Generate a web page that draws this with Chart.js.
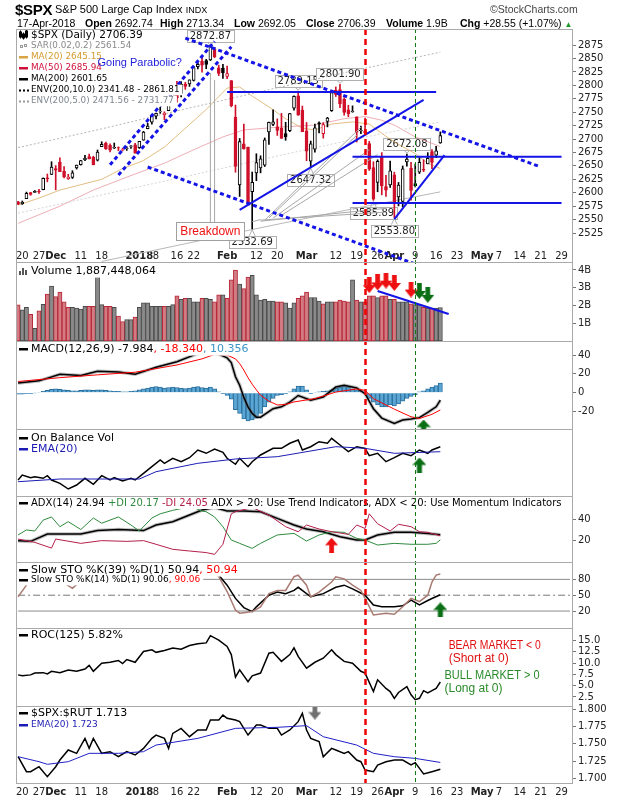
<!DOCTYPE html>
<html>
<head>
<meta charset="utf-8">
<title>$SPX S&amp;P 500 Large Cap Index</title>
<script src="https://cdn.jsdelivr.net/npm/chart.js@4.4.1/dist/chart.umd.min.js"></script>
<style>
  html, body { margin: 0; padding: 0; background: #fff; }
  #page { position: relative; width: 620px; height: 800px; overflow: hidden; font-family: 'Liberation Sans', Arial, sans-serif; color: #000; }
  #page canvas { position: absolute; left: 0; top: 0; }
  .t { position: absolute; white-space: nowrap; line-height: 1; }
  .b { font-weight: bold; }
</style>
</head>
<body>
<div id="page">
  <canvas id="chart" width="620" height="800"></canvas>
  <div class="t b" style="left:15px;top:2px;font-size:15px;letter-spacing:-0.3px">$SPX</div>
  <div class="t" style="left:55px;top:4px;font-size:11px">S&amp;P 500 Large Cap Index <span style="font-size:9px">INDX</span></div>
  <div class="t" style="left:490px;top:4px;font-size:10.5px;color:#444">&copy;StockCharts.com</div>
  <div class="t" style="left:17px;top:18px;font-size:10.5px">17-Apr-2018</div>
  <div class="t" style="left:85px;top:18px;font-size:10.5px"><b>Open</b> 2692.74</div>
  <div class="t" style="left:160px;top:18px;font-size:10.5px"><b>High</b> 2713.34</div>
  <div class="t" style="left:234px;top:18px;font-size:10.5px"><b>Low</b> 2692.05</div>
  <div class="t" style="left:306px;top:18px;font-size:10.5px"><b>Close</b> 2706.39</div>
  <div class="t" style="left:386px;top:18px;font-size:10.5px"><b>Volume</b> 1.9B</div>
  <div class="t" style="left:460px;top:18px;font-size:10.5px"><b>Chg</b> +28.55 (+1.07%) <span style="color:#1f9a2a;font-size:8px">&#9650;</span></div>
</div>
<script>
// ---- trading days (plus future weekdays shown on the axis) ----
const dates = `2017-11-17 2017-11-20 2017-11-21 2017-11-22 2017-11-24 2017-11-27 2017-11-28 2017-11-29 2017-11-30
2017-12-01 2017-12-04 2017-12-05 2017-12-06 2017-12-07 2017-12-08 2017-12-11 2017-12-12 2017-12-13 2017-12-14 2017-12-15
2017-12-18 2017-12-19 2017-12-20 2017-12-21 2017-12-22 2017-12-26 2017-12-27 2017-12-28 2017-12-29
2018-01-02 2018-01-03 2018-01-04 2018-01-05 2018-01-08 2018-01-09 2018-01-10 2018-01-11 2018-01-12
2018-01-16 2018-01-17 2018-01-18 2018-01-19 2018-01-22 2018-01-23 2018-01-24 2018-01-25 2018-01-26
2018-01-29 2018-01-30 2018-01-31 2018-02-01 2018-02-02 2018-02-05 2018-02-06 2018-02-07 2018-02-08 2018-02-09
2018-02-12 2018-02-13 2018-02-14 2018-02-15 2018-02-16 2018-02-20 2018-02-21 2018-02-22 2018-02-23
2018-02-26 2018-02-27 2018-02-28 2018-03-01 2018-03-02 2018-03-05 2018-03-06 2018-03-07 2018-03-08 2018-03-09
2018-03-12 2018-03-13 2018-03-14 2018-03-15 2018-03-16 2018-03-19 2018-03-20 2018-03-21 2018-03-22 2018-03-23
2018-03-26 2018-03-27 2018-03-28 2018-03-29 2018-04-02 2018-04-03 2018-04-04 2018-04-05 2018-04-06
2018-04-09 2018-04-10 2018-04-11 2018-04-12 2018-04-13 2018-04-16 2018-04-17
2018-04-18 2018-04-19 2018-04-20 2018-04-23 2018-04-24 2018-04-25 2018-04-26 2018-04-27 2018-04-30
2018-05-01 2018-05-02 2018-05-03 2018-05-04 2018-05-07 2018-05-08 2018-05-09 2018-05-10 2018-05-11
2018-05-14 2018-05-15 2018-05-16 2018-05-17 2018-05-18 2018-05-21 2018-05-22 2018-05-23 2018-05-24 2018-05-25
2018-05-29 2018-05-30 2018-05-31`.trim().split(/\s+/);

const tickLabels = {
  '2017-11-20': '20', '2017-11-27': '27', '2017-12-01': 'Dec', '2017-12-11': '11', '2017-12-18': '18',
  '2018-01-02': '2018', '2018-01-08': '8', '2018-01-16': '16', '2018-01-22': '22', '2018-02-01': 'Feb',
  '2018-02-12': '12', '2018-02-20': '20', '2018-03-01': 'Mar', '2018-03-12': '12', '2018-03-19': '19',
  '2018-03-26': '26', '2018-04-02': 'Apr', '2018-04-09': '9', '2018-04-16': '16', '2018-04-23': '23',
  '2018-05-01': 'May', '2018-05-07': '7', '2018-05-14': '14', '2018-05-21': '21', '2018-05-29': '29'
};
const boldLabels = ['Dec', '2018', 'Feb', 'Mar', 'Apr', 'May'];

// ---- daily price bars ----
const prevClose = 2585.64;
const opens = [2582.94,2579.49,2589.17,2600.31,2600.42,2602.66,2605.94,2627.82,2633.93,
  2645.10,2657.19,2639.78,2626.24,2628.38,2646.21,2652.19,2661.73,2667.59,2665.87,2660.63,
  2685.92,2692.71,2688.18,2683.02,2684.22,2679.09,2682.10,2686.10,2689.15,
  2683.73,2697.85,2719.31,2731.33,2742.67,2751.15,2745.55,2752.97,2770.18,
  2798.96,2784.99,2802.40,2802.60,2809.16,2835.05,2845.42,2846.24,2847.48,
  2867.23,2832.74,2832.41,2816.45,2808.92,2741.06,2614.78,2690.95,2685.01,2601.78,
  2636.75,2646.27,2651.21,2713.46,2727.14,2722.99,2720.53,2710.42,2715.80,
  2757.37,2780.45,2753.78,2715.22,2658.89,2681.06,2730.18,2710.18,2732.75,2752.91,
  2790.54,2792.31,2774.06,2754.27,2750.57,2741.38,2715.05,2714.99,2691.36,2646.71,
  2619.35,2667.57,2611.30,2614.41,2633.45,2592.17,2584.04,2657.36,2645.82,
  2617.18,2638.41,2643.48,2653.83,2676.90,2670.10,2692.74];
const highs = [2583.96,2584.64,2601.19,2600.94,2604.21,2606.41,2627.69,2634.89,2657.74,
  2650.62,2665.19,2648.72,2634.41,2640.99,2651.65,2660.33,2669.72,2671.88,2668.09,2679.63,
  2694.97,2694.44,2691.01,2692.64,2685.35,2682.74,2685.64,2687.66,2692.12,
  2695.89,2714.37,2729.29,2743.45,2748.51,2759.14,2750.80,2767.56,2787.85,
  2807.54,2807.04,2805.83,2810.33,2833.03,2842.24,2852.97,2848.56,2872.87,
  2870.62,2837.75,2839.26,2835.96,2808.92,2763.39,2701.04,2727.67,2685.27,2638.67,
  2672.61,2668.84,2702.10,2731.51,2754.42,2737.60,2747.75,2731.26,2747.76,
  2780.64,2789.15,2761.52,2730.89,2696.25,2728.09,2732.08,2730.60,2740.45,2786.57,
  2796.98,2801.90,2777.11,2763.03,2761.85,2741.38,2724.22,2739.14,2695.68,2657.67,
  2661.36,2674.78,2632.65,2659.07,2638.30,2619.14,2649.86,2672.08,2656.88,
  2653.55,2665.45,2661.43,2674.72,2680.26,2686.49,2713.34];
const lows = [2577.62,2578.24,2589.17,2595.23,2600.42,2598.87,2605.44,2620.32,2633.93,
  2605.52,2639.03,2627.73,2624.75,2626.53,2644.10,2651.47,2659.78,2662.85,2652.01,2659.14,
  2685.92,2680.74,2676.11,2682.40,2678.13,2677.96,2678.91,2682.69,2673.61,
  2682.36,2697.77,2719.07,2727.92,2737.60,2747.86,2736.06,2752.78,2769.64,
  2768.64,2778.38,2792.56,2798.08,2808.12,2830.59,2824.81,2830.94,2846.18,
  2851.48,2818.27,2813.04,2812.70,2759.97,2638.17,2593.07,2681.33,2580.56,2532.69,
  2622.45,2637.08,2648.87,2689.82,2725.11,2706.76,2701.29,2697.77,2713.74,
  2753.78,2744.22,2713.54,2659.65,2647.32,2675.75,2711.26,2701.74,2722.65,2751.54,
  2779.26,2758.68,2744.38,2741.47,2749.97,2694.59,2710.05,2709.79,2641.59,2585.89,
  2601.81,2596.12,2593.06,2609.72,2553.80,2575.49,2573.61,2649.58,2586.27,
  2610.79,2635.78,2639.25,2653.83,2645.05,2665.16,2692.05];
const closes = [2578.85,2582.14,2599.03,2597.08,2602.42,2601.42,2627.04,2626.07,2647.58,
  2642.22,2639.44,2629.57,2629.27,2636.98,2651.50,2659.99,2664.11,2662.85,2652.01,2675.81,
  2690.16,2681.47,2679.25,2684.57,2683.34,2680.50,2682.62,2687.54,2673.61,
  2695.81,2713.06,2723.99,2743.15,2747.71,2751.29,2748.23,2767.56,2786.24,
  2776.42,2802.56,2798.03,2810.30,2832.97,2839.13,2837.54,2839.25,2872.87,
  2853.53,2822.43,2823.81,2821.98,2762.13,2648.94,2695.14,2681.66,2581.00,2619.55,
  2656.00,2662.94,2698.63,2731.20,2732.22,2716.26,2701.33,2703.96,2747.30,
  2779.60,2744.28,2713.83,2677.67,2691.25,2720.94,2728.12,2726.80,2738.97,2786.57,
  2783.02,2765.31,2749.48,2747.33,2752.01,2712.92,2716.94,2711.93,2643.69,2588.26,
  2658.55,2612.62,2605.00,2640.87,2581.88,2614.45,2644.69,2662.84,2604.47,
  2613.16,2656.87,2642.19,2663.99,2656.30,2677.84,2706.39];
// volume, billions of shares
const volumes = [2.04,1.75,1.9,1.5,0.72,1.7,2.07,2.64,3.1,
  2.5,2.75,2.2,1.9,1.9,1.85,1.8,1.95,1.95,1.95,3.68,
  2.05,1.95,1.95,1.9,1.4,1.1,1.2,1.2,1.35,
  1.9,2.15,2.15,1.95,1.95,1.95,1.95,1.95,2.05,
  2.55,2.35,2.4,2.4,2.2,2.2,2.4,2.4,2.35,
  2.2,2.6,2.6,2.4,3.45,4.0,3.2,2.95,3.6,3.7,
  2.6,2.3,2.35,2.25,2.25,2.2,2.2,2.15,1.85,
  2.15,2.4,2.55,2.75,2.45,2.45,2.25,2.1,2.2,2.2,
  2.2,2.3,2.25,2.2,3.45,2.3,2.2,2.2,2.55,2.55,
  2.45,2.55,2.55,2.35,2.35,2.2,2.2,2.2,2.1,
  2.05,2.05,1.9,1.85,1.85,1.85,1.887];
const macdHist = [-1.5,-1.5,-1,-1,-0.5,0.5,1.5,2.5,3.5,4,3.5,3,2.5,2,2,2.5,3,3,2.5,3,
  3,2.5,2,1.5,1.5,1,1,1.5,2,3,4,5,6,6.5,6,5,5.5,6,5.5,5,
  4.5,5,6,6.5,5.5,5,6,4,1,-1,-3,-7,-18,-22,-28,-30,-29,-27,-22,-15,
  -10,-6,-3,-2,-1,1,4,7,7,3,-1,0.5,1,1.5,2,3,5,6,7,6,
  4,3,2,-1,-6,-10,-13,-15,-15,-13,-14,-12,-9,-6,-4,-2,1,2,4,6,7.5,10.36];

// ---- overlays and indicators, [day index, value] ----
const ma20 = [[0,2577],[5,2590],[10,2605],[15,2615],[20,2625],[25,2645],[30,2660],[35,2685],[40,2720],
  [45,2755],[50,2795],[53,2797],[56,2780],[60,2760],[64,2738],[68,2720],[71,2717],[75,2728],[80,2732],
  [84,2728],[88,2705],[91,2690],[95,2673],[98,2655],[101,2645.15]];
const ma50 = [[0,2543],[10,2575],[18,2605],[27,2632],[35,2655],[42,2680],[49,2704],[54,2717],[62,2722],
  [71,2726],[78,2738],[83,2742],[87,2735],[90,2726],[95,2704],[101,2685.94]];
const ma200 = [[20,2472],[40,2505],[60,2538],[80,2570],[101,2601.65]];
const env10Upper = [[0,2684],[20,2719],[40,2756],[60,2792],[80,2827],[101,2861.81]];
const env5Upper = [[0,2562],[20,2596],[40,2630],[60,2665],[80,2699],[101,2731.77]];
const macdLine = [[0,10.2],[5,12.6],[10,19.6],[15,18.2],[19,22.8],[24,22.1],[28,19.6],[33,27],[38,33],
  [42,40],[45,44],[48,41],[50,37],[51,32],[52,17],[53,8],[54,-5],[55,-15],[56,-22],[57,-26],[58,-26],
  [59,-23],[61,-17],[63,-15],[65,-10],[67,-3],[70,-8],[73,-4.5],[76,6],[78,8],[81,5],[83,-1],[85,-17],
  [87,-27],[90,-32.6],[92,-29],[94,-28],[96,-26.5],[98,-21],[100,-15],[101,-7.98]];
const macdSignal = [[0,11.9],[10,16],[19,19],[28,21.8],[38,29.5],[44,36],[47,40.7],[50,40],[52,36],
  [53,31],[54,24],[55,16],[56,9],[57,3],[58,-2.7],[60,-9],[62,-13],[64,-12.5],[66,-9.8],[71,-6.3],
  [76,0.7],[81,4],[83,2.5],[85,-6.3],[88,-13],[90,-17.5],[94,-25.6],[96,-27.4],[99,-23],[101,-18.34]];
const obv = [[0,16],[1,21],[3,18.3],[4,19.3],[6,17.7],[7,20.3],[8,16],[10,12.7],[12,7],[14,11],[16,17.7],
  [18,11.7],[20,20.3],[22,16],[23,18.3],[25,15],[27,17.7],[28,16],[30,22.7],[32,29.3],[34,36],[35,32.7],
  [37,37.7],[39,34.3],[41,38.3],[43,46],[45,42.7],[47,47],[49,43.7],[50,37.7],[52,31.7],[53,37.7],
  [55,29.3],[56,34.3],[58,41],[61,47.7],[63,47.7],[65,52.7],[67,56],[68,46],[70,49.3],[72,54.3],
  [74,52.7],[75,57.7],[77,51],[79,44.3],[81,49.3],[83,47.7],[84,40.3],[86,42.7],[88,34.3],[90,38.3],
  [92,42.7],[94,40.3],[96,46],[98,42.7],[99,46],[101,49.3]];
const obvEma = [[0,14.3],[10,17],[29,17],[33,24.3],[43,32.7],[52,37],[62,39.3],[76,49.3],[83,47.7],
  [90,42.7],[101,44.3]];
const adx = [[0,19.4],[3,18.7],[7,25.7],[15,25.7],[19,29],[24,30],[30,29],[33,34.3],[37,37.5],[41,43.8],
  [44,48.6],[47,51],[50,47.6],[54,47.6],[58,47],[62,40.6],[66,34.3],[69,30.5],[73,27.9],[77,23.2],
  [81,20],[83,20],[86,24.8],[90,27.3],[94,27.3],[98,26.3],[101,24.94]];
const plusDI = [[0,24.8],[2,29.6],[4,28.6],[6,39],[8,42],[10,32.7],[12,37.5],[15,30],[18,41],[20,36],
  [24,42],[27,34.3],[29,28.6],[32,41],[34,45],[37,48.3],[39,50],[42,51],[44,47.6],[45,47],[47,42],
  [49,32.7],[51,20],[53,16.8],[56,12],[58,16.8],[62,24.8],[66,26.3],[69,19],[72,24.8],[75,27.9],
  [78,27.3],[81,21.6],[83,20],[86,15.2],[90,16.8],[94,15.9],[98,15.9],[100,16.8],[101,20.17]];
const minusDI = [[0,20.9],[4,17.7],[8,12.3],[9,20.9],[15,16.8],[20,19.4],[26,18.7],[30,19.4],[33,15.9],
  [37,11.1],[41,9.5],[45,8],[47,6.3],[49,15.9],[51,45],[52,47],[56,51],[60,43.8],[64,32.7],[67,27.9],
  [69,34.3],[72,30.5],[75,27.9],[79,25.4],[81,34.3],[83,31],[84,45],[86,35.5],[89,28.6],[91,35],
  [94,32.7],[96,27.9],[98,27.3],[101,24.05]];
const stoK39 = [[0,80],[5,85],[10,88],[15,90],[20,92],[25,90],[30,95],[35,96],[40,97],[45,98],[47,92],
  [48,88],[50,69],[52,44],[54,26.5],[56,19],[57,28],[60,50],[62,56],[64,53],[66,59],[67,65],[70,47],
  [73,53],[76,65],[78,69],[80,62],[83,50],[85,31.5],[87,28],[90,28],[92,30],[94,40.7],[96,31.5],
  [98,40],[99,43.8],[101,50.94]];
const stoK14 = [[0,47],[2,69],[4,82],[6,90],[8,88],[10,78],[12,68],[13,63],[14,70],[16,85],[19,88],
  [22,80],[26,82],[30,95],[35,92],[40,95],[44,90],[46,98],[48,85],[50,57],[52,22],[53,16],[54,17],
  [56,19],[58,28],[60,53],[62,59],[64,59],[66,85],[67,88],[69,69],[70,47],[72,56],[75,75],[76,85],
  [78,81],[80,69],[82,59],[83,44],[85,12.5],[88,16],[90,14],[92,28],[94,44],[96,38],[98,50],[99,75],
  [100,88],[101,90.06]];
const stoLevels = [80, 50, 20];
const roc = [[0,7.4],[1,7.2],[3,7.4],[4,7.8],[6,7.9],[7,7.6],[8,8.2],[10,7.9],[12,8.5],[14,8.2],[16,8.7],
  [17,9.5],[18,8.2],[20,10],[22,10.2],[24,10.6],[25,9.9],[26,10.8],[28,10.2],[30,12.6],[32,12.97],
  [33,12.4],[35,12.8],[37,13.35],[39,13.1],[41,13.9],[43,14.3],[45,14.5],[46,16.1],[48,15.1],[50,13.7],
  [51,11.9],[52,6.9],[53,8.5],[55,5.9],[56,7.2],[58,7.8],[60,12.2],[61,12.4],[63,10.4],[65,11.9],
  [66,13.4],[67,11.5],[69,8.9],[71,10.2],[73,11.1],[75,12.97],[76,11.9],[78,10.4],[80,10],[82,8.2],
  [83,7.8],[85,3.7],[86,6.3],[88,4.4],[89,3.7],[90,2.2],[91,3.5],[93,4.8],[94,3],[95,1.9],[96,2.2],
  [97,3.9],[98,3.4],[99,3.9],[100,4.4],[101,5.82]];
const spxRut = [[0,1.7313],[2,1.7096],[3,1.7096],[5,1.7168],[7,1.7024],[9,1.7168],[10,1.7265],
  [12,1.741],[14,1.7362],[16,1.7579],[17,1.7434],[18,1.7579],[20,1.7362],[22,1.7386],[24,1.7313],
  [26,1.7386],[28,1.7338],[30,1.7434],[32,1.7579],[33,1.7627],[35,1.7579],[36,1.7434],[37,1.7651],
  [39,1.7724],[41,1.7603],[43,1.77],[45,1.77],[46,1.7845],[48,1.7845],[49,1.7917],[50,1.7869],
  [52,1.7845],[53,1.7821],[55,1.7627],[57,1.7772],[58,1.7772],[60,1.7724],[62,1.7724],[63,1.7627],
  [65,1.77],[67,1.7821],[68,1.7942],[69,1.77],[70,1.7579],[72,1.7531],[73,1.7313],[75,1.7434],
  [76,1.741],[78,1.7362],[79,1.7386],[81,1.7265],[82,1.7241],[83,1.712],[85,1.7096],[86,1.7193],
  [88,1.7241],[90,1.7265],[92,1.7265],[94,1.7193],[95,1.7227],[97,1.7063],[99,1.7096],[101,1.713]];
const spxRutEma = [[0,1.7313],[5,1.7241],[7,1.7203],[12,1.7241],[17,1.7362],[24,1.7362],[30,1.7386],
  [33,1.7482],[43,1.7579],[52,1.7724],[62,1.7739],[69,1.7763],[73,1.7603],[81,1.7482],[85,1.7362],
  [90,1.7313],[95,1.7289],[101,1.723]];

// ---- drawn annotations: [from day, from value, to day, to value] ----
const dashedTrends = [[22,2652,47,2882],[24,2633,51,2872],[40,2888,125,2648],[31,2648,116,2408]];
const solidTrends = [[50,2787.5,100,2787.5],[80,2667,130,2667],[80,2581,130,2581],[53,2568,97,2773],[90,2551,102,2670]];
const volumeTrend = [[86,2.82,103,1.52]];
const calloutLines = [[46,2545,46,2823],[47,2545,47,2810],[59,2549,82,2722],[60,2553,81,2707],
  [61,2553,84,2680],[63,2558,86,2671],[58,2547,88,2571],[58,2549,88,2564],[56,2546,58,2550]];
const priceNotes = [['2018-01-26',2872.87,'high'],['2018-02-27',2789.15,'high'],['2018-03-13',2801.90,'high'],
  ['2018-04-05',2672.08,'high'],['2018-03-02',2647.32,'low'],['2018-03-23',2585.89,'low'],
  ['2018-04-02',2553.80,'low'],['2018-02-09',2532.69,'low']];
const markerDates = [['2018-03-21','red'],['2018-04-09','green']];
const volRedArrows = [[84,3.15],[86,3.3],[88,3.4],[90,3.27],[94,2.9]];
const volGreenArrows = [[96,2.82],[98,2.6]];
const macdUpArrows = [[97,-36.5]];
const obvUpArrows = [[96,31]];
const adxUpArrows = [[75,15]];
const stoUpArrows = [[101,22]];
const rutDownArrows = [[71,1.796]];

// ---- axis ticks ----
const priceTicks = [2525,2550,2575,2600,2625,2650,2675,2700,2725,2750,2775,2800,2825,2850,2875];
const volTicks = [1,2,3,4];
const macdTicks = [-20,0,20,40];
const adxTicks = [20,40];
const stoTicks = [20,50,80];
const rocTicks = [2.5,5,7.5,10,12.5,15];
const rutTicks = [1.7,1.725,1.75,1.775,1.8];

const RED = '#d0112b', BLUE = '#1414e6';
const FONT = '"DejaVu Sans", Verdana, sans-serif';

const panels = [
  { id: 'yPrice', weight: 233, min: 2471, max: 2905, ticks: priceTicks, fmt: v => String(v) },
  { id: 'yVol', weight: 79, min: 0, max: 4.45, ticks: volTicks, fmt: v => v + 'B' },
  { id: 'yMacd', weight: 88, min: -38.6, max: 55, ticks: macdTicks, fmt: v => String(v) },
  { id: 'yObv', weight: 67, min: 0, max: 67, ticks: [], fmt: () => '' },
  { id: 'yAdx', weight: 66, min: -1, max: 62, ticks: adxTicks, fmt: v => String(v) },
  { id: 'ySto', weight: 66, min: -12.1, max: 112.9, ticks: stoTicks, fmt: v => String(v) },
  { id: 'yRoc', weight: 78, min: 0.5, max: 17.8, ticks: rocTicks, fmt: v => v.toFixed(1) },
  { id: 'yRut', weight: 77, min: 1.6932, max: 1.8048, ticks: rutTicks, fmt: v => v.toFixed(3) }
];

const prevOf = i => (i === 0 ? prevClose : closes[i - 1]);
const upDay = closes.map((c, i) => c >= prevOf(i));
const candleColor = upDay.map(u => (u ? '#000' : RED));
const bodyFill = closes.map((c, i) => (c >= opens[i] ? '#fff' : candleColor[i]));

const pts = list => list.map(([i, v]) => ({ x: dates[i], y: v }));

function line(id, list, color, width, dash, order) {
  return { type: 'line', yAxisID: id, data: pts(list), borderColor: color, borderWidth: width,
    borderDash: dash || [], pointRadius: 0, tension: 0, fill: false, order: order === undefined ? 6 : order };
}
// black indicator line with the soft grey shadow StockCharts puts under it
function shaded(id, list) {
  return [line(id, list, 'rgba(110,110,110,0.45)', 3.5, [], 7), line(id, list, '#000', 1.5)];
}
function segments(id, list, color, width, dash, order) {
  return list.map(([a, va, b, vb]) => line(id, [[a, va], [b, vb]], color, width, dash, order));
}

function arrowCanvas(color, up, w, h) {
  const c = document.createElement('canvas');
  c.width = w; c.height = h;
  const g = c.getContext('2d');
  const shape = [[0.5, 0], [1, 0.5], [0.68, 0.5], [0.68, 1], [0.32, 1], [0.32, 0.5], [0, 0.5]];
  g.beginPath();
  shape.forEach(([px, py], k) => {
    const X = px * w, Y = (up ? py : 1 - py) * h;
    if (k) g.lineTo(X, Y); else g.moveTo(X, Y);
  });
  g.closePath();
  g.fillStyle = color;
  g.fill();
  return c;
}
function arrows(id, list, img) {
  return { type: 'line', yAxisID: id, data: pts(list), showLine: false, pointStyle: img,
    pointRadius: 6, order: 0 };
}

const datasets = [
  line('yPrice', env10Upper, '#b4b4b4', 1, [2, 2], 20),
  line('yPrice', env5Upper, '#d4d4d4', 1, [2, 2], 20),
  line('yPrice', ma200, '#b8b8b8', 1, [], 20),
  line('yPrice', ma50, 'rgba(226,120,132,0.6)', 1, [], 20),
  line('yPrice', ma20, 'rgba(214,162,78,0.7)', 1, [], 20),
  { type: 'bar', yAxisID: 'yPrice', data: lows.map((l, i) => [l, highs[i]]), backgroundColor: candleColor,
    barThickness: 1, grouped: false, order: 15 },
  { type: 'bar', yAxisID: 'yPrice', data: opens.map((o, i) => [o, closes[i]]), backgroundColor: bodyFill,
    borderColor: candleColor, borderWidth: 1, borderSkipped: false, barThickness: 3, grouped: false, order: 14 },
  ...segments('yPrice', calloutLines, '#a8a8a8', 1, [], 10),
  ...segments('yPrice', dashedTrends, BLUE, 3, [4, 3], 3),
  ...segments('yPrice', solidTrends, BLUE, 2, [], 3),
  { type: 'bar', yAxisID: 'yVol', data: volumes, backgroundColor: upDay.map(u => (u ? '#8a8a8a' : '#d27b82')),
    borderColor: upDay.map(u => (u ? '#4a4a4a' : '#b82838')), borderWidth: 1, borderSkipped: false,
    barPercentage: 1, categoryPercentage: 1, grouped: false, order: 14 },
  ...segments('yVol', volumeTrend, BLUE, 2, [], 3),
  { type: 'bar', yAxisID: 'yMacd', data: macdHist, backgroundColor: '#5aa6d4', borderColor: '#2a6f9c',
    borderWidth: 1, barPercentage: 1, categoryPercentage: 1, grouped: false, order: 14 },
  line('yMacd', macdSignal, '#ff0000', 1),
  ...shaded('yMacd', macdLine),
  line('yObv', obvEma, '#1c1cb4', 1),
  line('yObv', obv, '#000', 1.5),
  line('yAdx', minusDI, '#b41e4a', 1),
  line('yAdx', plusDI, '#2e8a3e', 1),
  ...shaded('yAdx', adx),
  ...stoLevels.map(lv => line('ySto', [[0, lv], [dates.length - 1, lv]], lv === 50 ? '#777' : '#8a8a8a', 1,
    lv === 50 ? [7, 3, 2, 3] : [], 9)),
  line('ySto', stoK14, '#a87a72', 1.5),
  line('ySto', stoK39, '#000', 1.5),
  line('yRoc', roc, '#000', 1.5),
  line('yRut', spxRutEma, '#2020c8', 1),
  line('yRut', spxRut, '#000', 1.5),
  arrows('yVol', volRedArrows, arrowCanvas('#ee1010', false, 13, 16)),
  arrows('yVol', volGreenArrows, arrowCanvas('#0a6e14', false, 13, 16)),
  arrows('yMacd', macdUpArrows, arrowCanvas('#0a6e14', true, 14, 15)),
  arrows('yObv', obvUpArrows, arrowCanvas('#0a6e14', true, 14, 15)),
  arrows('yAdx', adxUpArrows, arrowCanvas('#ee1010', true, 13, 15)),
  arrows('ySto', stoUpArrows, arrowCanvas('#0a6e14', true, 14, 15)),
  arrows('yRut', rutDownArrows, arrowCanvas('#707070', false, 13, 15))
];

const scales = {
  x: {
    type: 'category', offset: true,
    grid: { display: false, drawTicks: false }, border: { display: false },
    afterFit: s => { s.height = 16; },
    ticks: {
      autoSkip: false, maxRotation: 0, minRotation: 0, padding: 3, color: '#222',
      font: c => ({ family: FONT, size: 10, weight: boldLabels.includes(tickLabels[dates[c.index]]) ? 'bold' : 'normal' }),
      callback: (v, i) => tickLabels[dates[i]] || ''
    }
  }
};
panels.forEach(p => {
  scales[p.id] = {
    type: 'linear', position: 'right', stack: 'panels', stackWeight: p.weight, min: p.min, max: p.max,
    afterBuildTicks: s => { s.ticks = p.ticks.map(v => ({ value: v })); },
    afterFit: s => { s.width = 48; },
    border: { display: false },
    grid: { drawOnChartArea: false, drawTicks: true, tickLength: 4, color: '#777' },
    ticks: { padding: 2, color: '#222', autoSkip: false, font: { family: FONT, size: 10 }, callback: v => p.fmt(v) }
  };
});

// ---- panel legends ----
const legends = {
  yPrice: [
    { sw: 'candle', size: 10.5, parts: [['$SPX (Daily) 2706.39', '#000']] },
    { sw: 'sar', parts: [['SAR(0.02,0.2) 2561.54', '#8a8a8a']] },
    { sw: 'line', c: '#d9a441', parts: [['MA(20) 2645.15', '#d49a30']] },
    { sw: 'line', c: '#d0103a', parts: [['MA(50) 2685.94', '#d0103a']] },
    { sw: 'line', c: '#000', parts: [['MA(200) 2601.65', '#000']] },
    { sw: 'dots', c: '#000', parts: [['ENV(200,10.0) 2341.48 - 2861.81', '#000']] },
    { sw: 'dots', c: '#999', parts: [['ENV(200,5.0) 2471.56 - 2731.77', '#7f8890']] }
  ],
  yVol: [{ sw: 'bars', parts: [['Volume 1,887,448,064', '#000']] }],
  yMacd: [{ sw: 'line', c: '#000', parts: [['MACD(12,26,9) -7.984', '#000'], [', -18.340', '#ff0000'], [', 10.356', '#3a96c8']] }],
  yObv: [{ sw: 'line', c: '#000', parts: [['On Balance Vol', '#000']] },
    { sw: 'line', c: '#1c1cb4', parts: [['EMA(20)', '#1c1cb4']] }],
  yAdx: [{ sw: 'line', c: '#000', parts: [['ADX(14) 24.94 ', '#000'], ['+DI 20.17 ', '#2e8a3e'], ['-DI 24.05 ', '#b41e4a'],
    ['ADX > 20: Use Trend Indicators, ADX < 20: Use Momentum Indicators', '#000']] }],
  ySto: [{ sw: 'line', c: '#000', parts: [['Slow STO %K(39) %D(1) 50.94', '#000'], [', 50.94', '#ff0000']] },
    { sw: 'line', c: '#000', size: 9, parts: [['Slow STO %K(14) %D(1) 90.06', '#000'], [', 90.06', '#ff0000']] }],
  yRoc: [{ sw: 'line', c: '#000', parts: [['ROC(125) 5.82%', '#000']] }],
  yRut: [{ sw: 'line', c: '#000', parts: [['$SPX:$RUT 1.713', '#000']] },
    { sw: 'line', c: '#1c1cb4', size: 9, parts: [['EMA(20) 1.723', '#1c1cb4']] }]
};
// [first row offset, row step, font size]
const legendLayout = { yPrice: [6, 11, 8.8], yVol: [9, 11, 11], yMacd: [8, 11, 11], yObv: [9, 11, 11],
  yAdx: [7, 11, 10], ySto: [8, 10, 11], yRoc: [7, 11, 11], yRut: [7, 12, 11] };

const textNotes = [
  ['yPrice', '2017-12-15', 2841.5, 'Going Parabolic?', '#1c1cdc', 11, 0],
  ['yRoc', '2018-04-19', 13.8, 'BEAR MARKET < 0', '#e01010', 12, 92],
  ['yRoc', '2018-04-19', 10.9, '(Short at 0)', '#e01010', 12, 66],
  ['yRoc', '2018-04-18', 7.2, 'BULL MARKET > 0', '#2a8a2a', 12, 95],
  ['yRoc', '2018-04-18', 4.3, '(Long at 0)', '#2a8a2a', 12, 62]
];
const breakdownNote = ['2018-01-26', 2528.6, 'Breakdown'];

function swatch(g, row, x, y) {
  g.save();
  const c = row.c || '#000';
  if (row.sw === 'line') { g.fillStyle = c; g.fillRect(x, y - 1, 9, 2.5); }
  if (row.sw === 'dots') { g.fillStyle = c; [0, 4, 8].forEach(d => g.fillRect(x + d, y - 0.5, 2, 2)); }
  if (row.sw === 'sar') { g.strokeStyle = '#999'; g.lineWidth = 1; g.strokeRect(x + 1.5, y - 0.5, 2, 2); g.strokeRect(x + 5.5, y - 1.5, 2, 2); }
  if (row.sw === 'bars') { g.fillStyle = '#555'; [[0, 4], [3, 7], [6, 5]].forEach(([d, h]) => g.fillRect(x + d, y + 4 - h, 2, h)); }
  if (row.sw === 'candle') {
    g.strokeStyle = '#000'; g.lineWidth = 1;
    [[0.5, -3, 5], [3.5, -1, 4], [6.5, -4, 6]].forEach(([d, t, h]) => {
      g.strokeRect(x + d, y + t, 2, h);
      g.beginPath(); g.moveTo(x + d + 1, y + t - 1.5); g.lineTo(x + d + 1, y + t + h + 1.5); g.stroke();
    });
  }
  g.restore();
}

const chartPlugin = {
  id: 'stockcharts',
  beforeDatasetsDraw(chart) {
    const g = chart.ctx, xs = chart.scales.x, ps = chart.scales.yPrice;
    const X = d => xs.getPixelForValue(dates.indexOf(d));
    g.save();
    // date row inside the price panel
    g.textAlign = 'center'; g.textBaseline = 'middle'; g.fillStyle = '#222';
    Object.entries(tickLabels).forEach(([d, t]) => {
      g.font = (boldLabels.includes(t) ? 'bold ' : '') + '10px ' + FONT;
      g.fillText(t, X(d), ps.bottom - 6);
    });
    // value call-outs on highs and lows (under the drawn lines)
    g.font = '10px ' + FONT;
    priceNotes.forEach(([d, v, kind]) => {
      const x = X(d), py = ps.getPixelForValue(v), t = v.toFixed(2);
      const w = g.measureText(t).width + 6, h = 12;
      const cy = kind === 'high' ? py - 10 : py + 13;
      g.fillStyle = '#fff'; g.strokeStyle = '#b0b0b0'; g.lineWidth = 1;
      g.fillRect(x - w / 2, cy - h / 2, w, h);
      g.strokeRect(Math.round(x - w / 2) + 0.5, Math.round(cy - h / 2) + 0.5, Math.round(w), h);
      g.beginPath();
      if (kind === 'high') { g.moveTo(x - 3, cy + h / 2); g.lineTo(x, py - 1); g.lineTo(x + 3, cy + h / 2); }
      else { g.moveTo(x - 3, cy - h / 2); g.lineTo(x, py + 1); g.lineTo(x + 3, cy - h / 2); }
      g.stroke();
      g.fillStyle = '#222'; g.fillText(t, x, cy + 0.5);
    });
    g.restore();
  },
  afterDatasetsDraw(chart) {
    const g = chart.ctx, xs = chart.scales.x, ps = chart.scales.yPrice, area = chart.chartArea;
    const X = d => xs.getPixelForValue(dates.indexOf(d));
    g.save();
    g.textAlign = 'center'; g.textBaseline = 'middle';
    // breakdown box
    {
      const [d, v, t] = breakdownNote;
      const x = X(d), y = ps.getPixelForValue(v);
      g.font = '12px "Liberation Sans", Arial, sans-serif';
      const w = 68, h = 18;
      g.fillStyle = '#fff'; g.strokeStyle = '#a0a0a0'; g.lineWidth = 1;
      g.fillRect(x - w / 2, y - h / 2, w, h);
      g.strokeRect(Math.round(x - w / 2) + 0.5, Math.round(y - h / 2) + 0.5, w, h);
      g.fillStyle = '#ee1111'; g.fillText(t, x, y + 1);
    }
    // legends
    Object.entries(legends).forEach(([id, rows]) => {
      const s = chart.scales[id], [off, step, base] = legendLayout[id];
      rows.forEach((row, k) => {
        const size = row.size || base, y = s.top + off + k * step, x = area.left + 15;
        g.font = size + 'px ' + FONT;
        const w = row.parts.reduce((a, p) => a + g.measureText(p[0]).width, 0);
        g.fillStyle = '#fff';
        g.fillRect(area.left + 1, y - size * 0.6, w + 17, size * 1.2);
        swatch(g, row, area.left + 3, y);
        let cx = x;
        g.textAlign = 'left'; g.textBaseline = 'middle';
        row.parts.forEach(([t, c]) => { g.fillStyle = c; g.fillText(t, cx, y); cx += g.measureText(t).width; });
      });
    });
    // free text notes
    textNotes.forEach(([id, d, v, t, color, size, maxW]) => {
      const x = X(d), y = chart.scales[id].getPixelForValue(v);
      g.font = size + 'px "Liberation Sans", Arial, sans-serif';
      g.textAlign = 'left'; g.textBaseline = 'middle'; g.fillStyle = color;
      if (maxW) g.fillText(t, x, y, maxW); else g.fillText(t, x, y);
    });
    // vertical event markers
    markerDates.forEach(([d, kind]) => {
      const x = Math.round(X(d)) + 0.5;
      g.beginPath();
      g.strokeStyle = kind === 'red' ? '#ee0000' : '#137a13';
      g.lineWidth = kind === 'red' ? 2.5 : 1;
      g.setLineDash(kind === 'red' ? [6, 4] : [4, 3]);
      g.moveTo(x, area.top); g.lineTo(x, area.bottom); g.stroke();
    });
    g.restore();
  },
  afterDraw(chart) {
    const g = chart.ctx, area = chart.chartArea;
    g.save();
    g.strokeStyle = '#aaaaaa'; g.lineWidth = 1;
    panels.forEach(p => {
      const s = chart.scales[p.id];
      g.strokeRect(area.left + 0.5, Math.round(s.top) + 0.5, area.right - area.left, Math.round(s.bottom - s.top));
    });
    g.restore();
  }
};

new Chart(document.getElementById('chart'), {
  type: 'bar',
  data: { labels: dates, datasets },
  options: {
    responsive: false, animation: false, events: [],
    layout: { padding: { top: 29, left: 16, right: 0, bottom: 1 } },
    plugins: { legend: { display: false }, tooltip: { enabled: false } },
    scales
  },
  plugins: [chartPlugin]
});
</script>
</body>
</html>
